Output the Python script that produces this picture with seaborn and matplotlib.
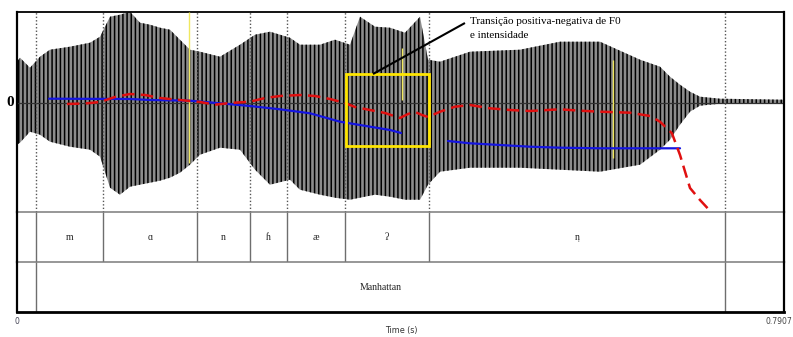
import numpy as np
import pandas as pd
import matplotlib
matplotlib.use("Agg")
import matplotlib.pyplot as plt
import seaborn as sns

# ---------------- data ----------------
T_END = 0.7907

# waveform envelope (time in s, relative amplitude)
env_t = [0.0000, 0.0031, 0.0134, 0.0237, 0.0340, 0.0546, 0.0753, 0.0856, 0.0959, 0.1062,
         0.1165, 0.1268, 0.1371, 0.1474, 0.1577, 0.1680, 0.1783, 0.1887, 0.2093, 0.2299,
         0.2454, 0.2608, 0.2814, 0.2917, 0.3124, 0.3278, 0.3433, 0.3536, 0.3691, 0.3845,
         0.4000, 0.4155, 0.4237, 0.4361, 0.4670, 0.5185, 0.5598, 0.6010, 0.6423, 0.6629,
         0.6732, 0.6835, 0.6938, 0.7041, 0.7247, 0.7907]
env_upper = [0.41, 0.45, 0.35, 0.46, 0.53, 0.56, 0.60, 0.66, 0.86, 0.88,
             0.91, 0.80, 0.78, 0.75, 0.73, 0.63, 0.53, 0.51, 0.46, 0.58,
             0.68, 0.71, 0.65, 0.58, 0.58, 0.63, 0.58, 0.86, 0.76, 0.75,
             0.70, 0.86, 0.43, 0.41, 0.51, 0.53, 0.61, 0.61, 0.43, 0.36,
             0.26, 0.18, 0.11, 0.06, 0.04, 0.03]
env_lower = [-0.42, -0.40, -0.29, -0.32, -0.39, -0.44, -0.47, -0.54, -0.85, -0.92,
             -0.84, -0.82, -0.80, -0.78, -0.75, -0.70, -0.62, -0.52, -0.45, -0.47,
             -0.67, -0.82, -0.77, -0.87, -0.92, -0.95, -0.97, -0.95, -0.92, -0.94,
             -0.97, -0.97, -0.82, -0.69, -0.65, -0.65, -0.67, -0.69, -0.62, -0.47,
             -0.37, -0.22, -0.09, -0.03, -0.01, -0.01]

# F0 contour (red dashed), drawn in waveform panel units
f0_t = [0.0515, 0.0701, 0.0856, 0.1010, 0.1165, 0.1320, 0.1474, 0.1680, 0.1887, 0.2041,
        0.2196, 0.2402, 0.2557, 0.2711, 0.2917, 0.3072, 0.3227, 0.3381, 0.3484, 0.3639,
        0.3794, 0.3948, 0.4031, 0.4103, 0.4175, 0.4237, 0.4361, 0.4515, 0.4670, 0.4876,
        0.5082, 0.5289, 0.5598, 0.5804, 0.6010, 0.6319, 0.6526, 0.6629, 0.6752, 0.6835,
        0.6938, 0.7041, 0.7165]
f0_v = [-0.013, -0.008, 0.007, 0.057, 0.087, 0.077, 0.047, 0.027, 0.007, -0.020,
        -0.003, 0.010, 0.047, 0.067, 0.077, 0.067, 0.037, -0.003, -0.043, -0.073,
        -0.103, -0.153, -0.113, -0.093, -0.123, -0.143, -0.090, -0.040, -0.023, -0.056,
        -0.073, -0.083, -0.066, -0.080, -0.090, -0.100, -0.133, -0.190, -0.306, -0.523,
        -0.853, -0.973, -1.103]

# intensity contour (blue), two segments
int_t = [0.0330, 0.1165, 0.1371, 0.1783, 0.2093, 0.2402, 0.2711, 0.3021, 0.3330, 0.3536,
         0.3845, 0.3959,
         0.4443, 0.4670, 0.4979, 0.5289, 0.5598, 0.6010, 0.6835]
int_v = [0.040, 0.037, 0.027, 0.020, -0.006, -0.033, -0.066, -0.106, -0.190, -0.223,
         -0.273, -0.303,
         -0.383, -0.406, -0.423, -0.440, -0.450, -0.456, -0.456]
int_seg = [1] * 12 + [2] * 7

# segmentation
phone_bounds = [0.0196, 0.0887, 0.1856, 0.2402, 0.2783, 0.3381, 0.4247, 0.7299]
phone_labels = ["m", "ɑ", "n", "ɦ", "æ", "ʔ", "n̩"]
word_bounds = [0.0196, 0.7299]
word_labels = ["Manhattan"]

# highlighted region and annotation
box_t = [0.3388, 0.4247]
box_v = [-0.433, 0.287]
note_lines = ["Transição positiva-negativa de F0", "e intensidade"]

# faint yellow cursor marks
mark_t = [0.1773, 0.3969, 0.6144]
mark_lo = [-0.603, 0.027, -0.553]
mark_hi = [0.907, 0.547, 0.430]

# ---------------- figure ----------------
sns.set_theme(style="white")
plt.rcParams["hatch.color"] = "black"
plt.rcParams["hatch.linewidth"] = 1.1

W, H = 793, 337
fig = plt.figure(figsize=(W / 100, H / 100), dpi=100)
fig.patch.set_facecolor("white")

def fx(px):
    return px / W

def fy(py):
    return 1 - py / H

L, R = 17, 784
ax = fig.add_axes([fx(L), fy(212), fx(R - L), (212 - 12) / H])
ax1 = fig.add_axes([fx(L), fy(262), fx(R - L), 50 / H])
ax2 = fig.add_axes([fx(L), fy(312), fx(R - L), 50 / H])

YLO, YHI = -1.093, 0.907
for a in (ax, ax1, ax2):
    a.set_xlim(0, T_END)
    a.set_xticks([])
    a.set_yticks([])
    for s in a.spines.values():
        s.set_visible(True)
ax.set_facecolor("white")
ax1.set_facecolor("none")
ax2.set_facecolor("none")
ax.set_ylim(YLO, YHI)
ax1.set_ylim(0, 1)
ax2.set_ylim(0, 1)

# frame styling
for a in (ax, ax1, ax2):
    a.spines["left"].set_color("black"); a.spines["left"].set_linewidth(1.6)
    a.spines["right"].set_color("black"); a.spines["right"].set_linewidth(1.6)
ax.spines["top"].set_color("black"); ax.spines["top"].set_linewidth(1.3)
ax.spines["bottom"].set_color("#7a7a7a"); ax.spines["bottom"].set_linewidth(1.1)
ax1.spines["top"].set_visible(False)
ax1.spines["bottom"].set_color("#7a7a7a"); ax1.spines["bottom"].set_linewidth(1.1)
ax2.spines["top"].set_visible(False)
ax2.spines["bottom"].set_color("black"); ax2.spines["bottom"].set_linewidth(2.0)

# waveform
ax.fill_between(env_t, env_lower, env_upper, facecolor="#8c8c8c",
                edgecolor="black", hatch="||||", linewidth=0, zorder=1)
ax.axhline(0, color="#333333", lw=0.9, zorder=2)

# dotted boundaries in waveform panel
ax.vlines(phone_bounds, YLO, YHI, colors="#555555", linestyles=(0, (1, 1.5)),
          lw=1.0, zorder=2)

# yellow cursor marks
ax.vlines(mark_t, mark_lo, mark_hi, colors="#f0e860", lw=1.0, zorder=3)

# contours
f0_df = pd.DataFrame({"t": f0_t, "v": f0_v})
int_df = pd.DataFrame({"t": int_t, "v": int_v, "seg": int_seg})
sns.lineplot(data=int_df, x="t", y="v", units="seg", estimator=None, sort=False,
             color="#1515e0", lw=1.6, ax=ax, zorder=4)
sns.lineplot(data=f0_df, x="t", y="v", sort=False, color="#e01010", lw=1.8,
             linestyle=(0, (5, 2.5)), ax=ax, zorder=5)
ax.set_xlabel(""); ax.set_ylabel("")
ax.set_xlim(0, T_END); ax.set_ylim(YLO, YHI)

# yellow box
ax.add_patch(plt.Rectangle((box_t[0], box_v[0]), box_t[1] - box_t[0],
                           box_v[1] - box_v[0], fill=False, edgecolor="#ffe600",
                           lw=2.0, zorder=6))

# annotation line and text
ax.plot([0.3670, 0.4618], [box_v[1], 0.797], color="black", lw=1.5, zorder=7,
        solid_capstyle="butt")
ax.text(0.4670, 0.807, note_lines[0], family="Liberation Serif", fontsize=8,
        ha="left", va="center", color="black", zorder=8)
ax.text(0.4670, 0.677, note_lines[1], family="Liberation Serif", fontsize=8,
        ha="left", va="center", color="black", zorder=8)

# tiers
ax1.vlines(phone_bounds, 0, 1, colors="#6e6e6e", lw=1.0)
for i, lab in enumerate(phone_labels):
    c = (phone_bounds[i] + phone_bounds[i + 1]) / 2
    ax1.text(c, 0.5, lab, family=["Liberation Serif", "DejaVu Serif"], fontsize=7,
             ha="center", va="center", color="#222222")
ax2.vlines(word_bounds, 0, 1, colors="#6e6e6e", lw=1.0)
for i, lab in enumerate(word_labels):
    c = (word_bounds[i] + word_bounds[i + 1]) / 2
    ax2.text(c, 0.5, lab, family="Liberation Serif", fontsize=7,
             ha="center", va="center", color="#222222")

# axis annotations
fig.text(fx(10), fy(102), "0", family="Liberation Serif", fontsize=11,
         fontweight="bold", ha="center", va="center", color="black")
fig.text(fx(L), fy(321), "0", family="DejaVu Sans", fontsize=5.5,
         ha="center", va="center", color="#444455")
fig.text(fx(792), fy(321), "0.7907", family="DejaVu Sans", fontsize=5.5,
         ha="right", va="center", color="#444444")
fig.text(fx(401), fy(331), "Time (s)", family="DejaVu Sans", fontsize=5.8,
         ha="center", va="center", color="#333333")

fig.savefig("out.png", dpi=100)
